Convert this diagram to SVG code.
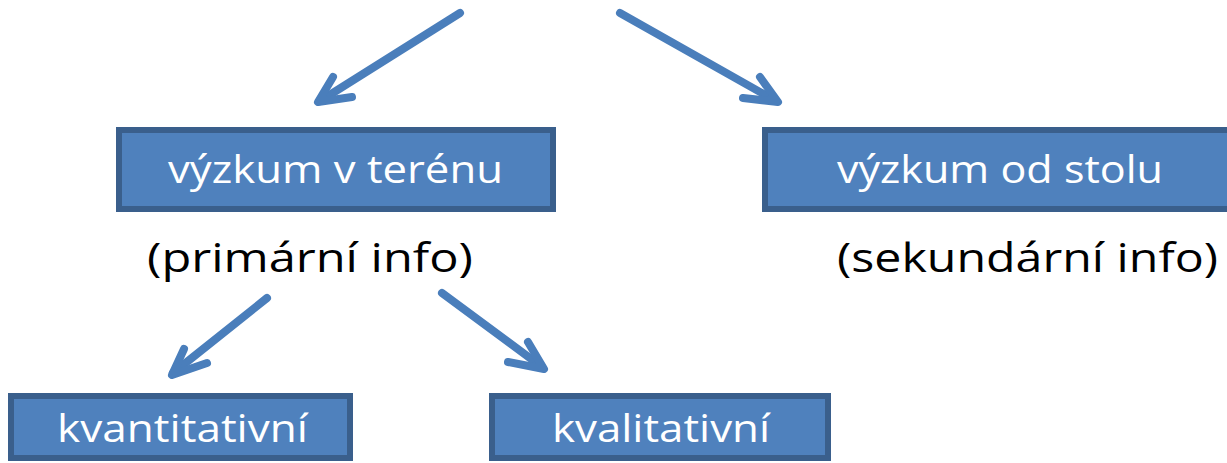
<svg xmlns="http://www.w3.org/2000/svg" width="1227" height="463" viewBox="0 0 1227 463">
<style>
.box{fill:#4F81BD;stroke:#3A5F8C;stroke-width:6}
.lbl{font-family:"Open Sans","Liberation Sans",sans-serif;font-size:38px;fill:#FFFFFF}
.note{font-family:"Open Sans","Liberation Sans",sans-serif;font-size:40px;fill:#000000}
.conn line,.conn polyline{fill:none;stroke:#4A7EBB;stroke-width:8;stroke-linecap:round;stroke-linejoin:round}
</style>
<rect width="1227" height="463" fill="#FFFFFF"/>
<g id="connectors" class="conn">
<line x1="460" y1="13" x2="320" y2="101"/>
<polyline points="333,77 318,102 352,97"/>
<line x1="620" y1="13" x2="776" y2="101"/>
<polyline points="760,77 778,102 743,98"/>
<line x1="267" y1="298" x2="173" y2="373"/>
<polyline points="184,349 172,375 207,363"/>
<line x1="442" y1="293" x2="542" y2="367"/>
<polyline points="528,342 544,369 508,362"/>
</g>
<g id="node-teren">
<rect class="box" x="119" y="130" width="434" height="79"/>
<text class="lbl" x="168" y="183" textLength="335" lengthAdjust="spacingAndGlyphs">výzkum v terénu</text>
</g>
<g id="node-primarni">
<text class="note" x="147" y="272" textLength="326" lengthAdjust="spacingAndGlyphs">(primární info)</text>
</g>
<g id="node-stolu">
<rect class="box" x="765" y="130" width="470" height="79"/>
<text class="lbl" x="837" y="183" textLength="326" lengthAdjust="spacingAndGlyphs">výzkum od stolu</text>
</g>
<g id="node-sekundarni">
<text class="note" x="837" y="272" textLength="381" lengthAdjust="spacingAndGlyphs">(sekundární info)</text>
</g>
<g id="node-kvantitativni">
<rect class="box" x="11" y="396" width="339" height="62"/>
<text class="lbl" x="57" y="442" textLength="251" lengthAdjust="spacingAndGlyphs">kvantitativní</text>
</g>
<g id="node-kvalitativni">
<rect class="box" x="492" y="396" width="336" height="62"/>
<text class="lbl" x="552" y="442" textLength="218" lengthAdjust="spacingAndGlyphs">kvalitativní</text>
</g>
</svg>
